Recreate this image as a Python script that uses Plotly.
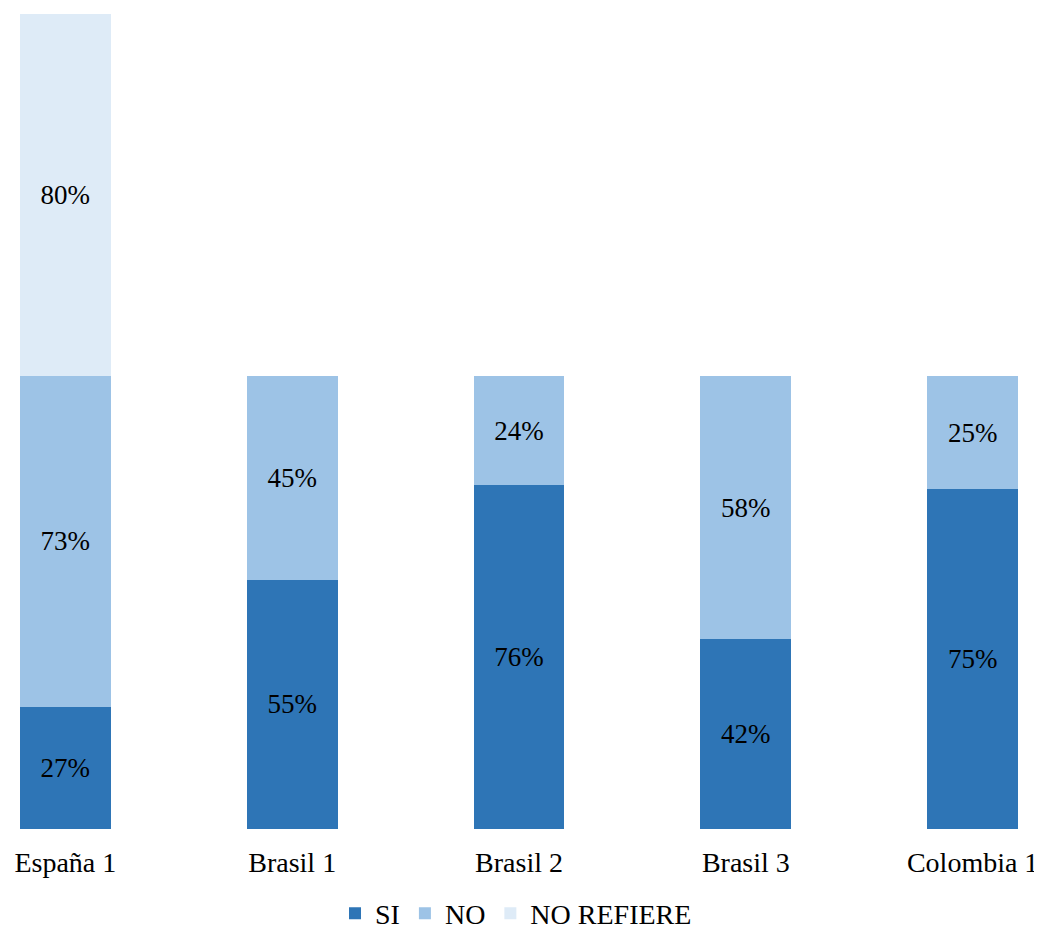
import plotly.graph_objects as go

categories = ["España 1", "Brasil 1", "Brasil 2", "Brasil 3", "Colombia 1"]
si = [27, 55, 76, 42, 75]
no = [73, 45, 24, 58, 25]
no_refiere = [80, None, None, None, None]

colors = {"SI": "#2E75B6", "NO": "#9DC3E6", "NO REFIERE": "#DEEBF7"}
font_family = "Liberation Serif, Times New Roman, serif"

fig = go.Figure()
for name, vals in [("SI", si), ("NO", no), ("NO REFIERE", no_refiere)]:
    fig.add_trace(go.Bar(
        x=categories, y=vals, name=name,
        marker=dict(color=colors[name], line=dict(width=0)),
        text=[f"{v}%" if v is not None else "" for v in vals],
        textposition="inside", insidetextanchor="middle", textangle=0,
        constraintext="none",
        textfont=dict(family=font_family, size=27, color="black"),
        width=0.4,
    ))

# page body has an 8px default margin; compensate so the figure fills the window
fig.update_layout(
    barmode="stack",
    width=1034, height=924,
    margin=dict(l=12, r=24, t=6, b=103),
    paper_bgcolor="white", plot_bgcolor="white",
    font=dict(family=font_family, size=28, color="black"),
    xaxis=dict(range=[-0.2, 4.2], showline=False, showgrid=False, ticks="",
               automargin=False, ticklabelstandoff=14,
               tickfont=dict(size=28, color="black")),
    yaxis=dict(range=[0, 180], visible=False, automargin=False),
    legend=dict(orientation="h", x=0.497, xanchor="center",
                yref="container", y=0.02, yanchor="middle",
                font=dict(size=28, color="black"), traceorder="normal",
                itemwidth=30, tracegroupgap=0),
    showlegend=True,
)

fig.write_html("out.html")
